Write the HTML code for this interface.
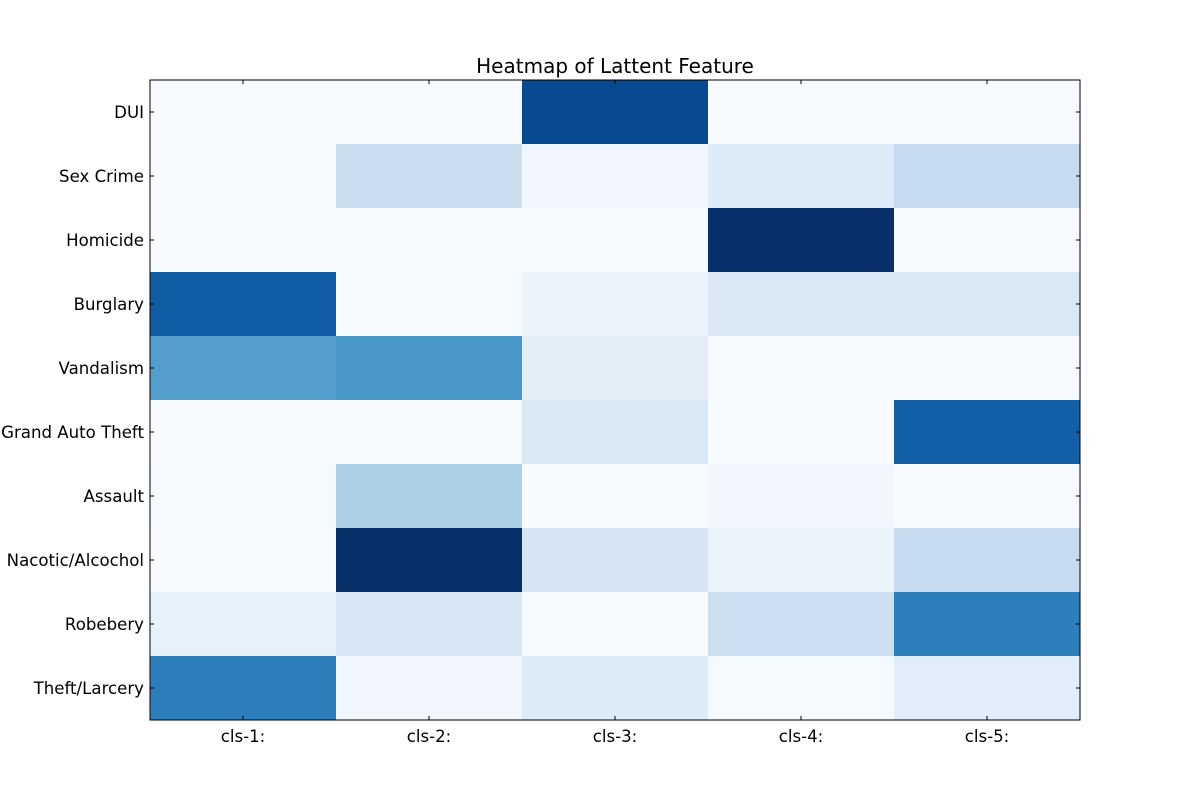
<!DOCTYPE html>
<html><head><meta charset="utf-8"><style>
body{margin:0;background:#fff;}
svg text{font-family:"DejaVu Sans","Liberation Sans",sans-serif;}
</style></head><body>
<svg id="chart" width="1200" height="800">
<text x="615" y="73" text-anchor="middle" font-size="20">Heatmap of Lattent Feature</text>
<g id="cells"></g><g id="axes"></g>
</svg>
<script>
const rows = ["DUI","Sex Crime","Homicide","Burglary","Vandalism","Grand Auto Theft","Assault","Nacotic/Alcochol","Robebery","Theft/Larcery"];
const cols = ["cls-1:","cls-2:","cls-3:","cls-4:","cls-5:"];
const values = [
[0,0,0.9,0,0],
[0,0.23,0.03,0.13,0.25],
[0,0,0,1.0,0],
[0.83,0,0.06,0.14,0.15],
[0.57,0.6,0.1,0,0],
[0,0,0.14,0,0.82],
[0.01,0.33,0,0.03,0],
[0,1.0,0.17,0.06,0.25],
[0.08,0.16,0,0.22,0.7],
[0.7,0.03,0.13,0.01,0.11]
];
const L=150,T=80,W=930,H=640;
const stops=["#f7fbff","#deebf7","#c6dbef","#9ecae1","#6baed6","#4292c6","#2171b5","#08519c","#08306b"];
function hex(h){return [1,3,5].map(i=>parseInt(h.substr(i,2),16));}
function cmap(v){v=Math.max(0,Math.min(1,v));const p=v*8,i=Math.min(7,Math.floor(p)),f=p-i;const a=hex(stops[i]),b=hex(stops[i+1]);return "rgb("+a.map((x,k)=>Math.round(x+(b[k]-x)*f)).join(",")+")";}
const xs=j=>L+j*W/cols.length, ys=i=>T+i*H/rows.length;
const NS="http://www.w3.org/2000/svg";
const cg=document.getElementById("cells"), ag=document.getElementById("axes");
function mk(t,a,p){const e=document.createElementNS(NS,t);for(const k in a)e.setAttribute(k,a[k]);p.appendChild(e);return e;}
const cw=W/cols.length, rh=H/rows.length;
values.forEach((r,i)=>r.forEach((v,j)=>{
 const e=mk("rect",{x:xs(j),y:ys(i),width:cw+0.5,height:rh+0.5,fill:cmap(v)},cg);
 
 
}));
const fr=mk("rect",{x:L,y:T,width:W,height:H,fill:"none",stroke:"#000","stroke-width":1},ag);


rows.forEach((r,i)=>{
 const y=ys(i)+rh/2;
 mk("line",{x1:L,x2:L+4,y1:y,y2:y,stroke:"#000"},ag);
 mk("line",{x1:L+W,x2:L+W-4,y1:y,y2:y,stroke:"#000"},ag);
 const t=mk("text",{x:L-6,y:y+6,"text-anchor":"end","font-size":"16.6"},ag);t.textContent=r;
 
 
});
cols.forEach((c,j)=>{
 const x=xs(j)+cw/2;
 mk("line",{x1:x,x2:x,y1:T,y2:T+4,stroke:"#000"},ag);
 mk("line",{x1:x,x2:x,y1:T+H,y2:T+H-4,stroke:"#000"},ag);
 const t=mk("text",{x:x,y:T+H+22,"text-anchor":"middle","font-size":"16.6"},ag);t.textContent=c;
 
 
});
</script>
</body></html>
